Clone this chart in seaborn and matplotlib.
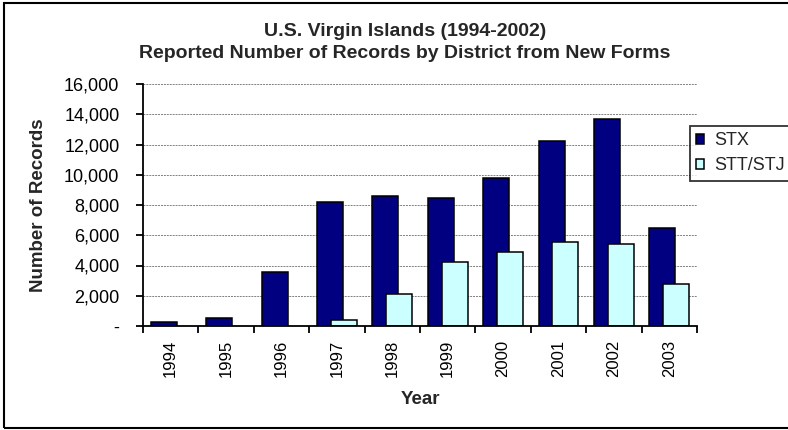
import pandas as pd
import matplotlib
matplotlib.use('Agg')
import matplotlib.pyplot as plt
import seaborn as sns
from matplotlib.patches import Patch, Rectangle
from matplotlib.ticker import FuncFormatter, FixedLocator

# values
years = ['1994', '1995', '1996', '1997', '1998', '1999', '2000', '2001', '2002', '2003']
stx = [250, 500, 3550, 8200, 8600, 8450, 9800, 12200, 13700, 6500]
stt_stj = [0, 0, 0, 400, 2100, 4200, 4900, 5550, 5400, 2750]
districts = ['STX', 'STT/STJ']
colors = ['#000080', '#CCFFFF']

df = pd.DataFrame({
    'Year': years * 2,
    'Records': stx + stt_stj,
    'District': ['STX'] * len(years) + ['STT/STJ'] * len(years),
})

sns.set_theme(style='white')
plt.rcParams['font.family'] = ['Liberation Sans', 'DejaVu Sans']

fig = plt.figure(figsize=(7.88, 4.30), dpi=100)
ax = fig.add_axes([143 / 788, 1 - 326 / 430, (697 - 143) / 788, (326 - 84) / 430])

sns.barplot(data=df, x='Year', y='Records', hue='District', hue_order=districts,
            palette=colors, saturation=1, width=0.72, edgecolor='black', linewidth=1.1,
            legend=False, ax=ax)

# excel style overlapping bars
bw = 0.47
for i, cont in enumerate(ax.containers):
    for p in cont.patches:
        if i == 1:
            p.set_x(p.get_x() + p.get_width() - bw)
        p.set_width(bw)
        if p.get_height() == 0:
            p.set_visible(False)

ax.set_xlim(-0.5, len(years) - 0.5)
ax.set_ylim(0, 16000)
ax.set_yticks(range(0, 16001, 2000))
ax.yaxis.set_major_formatter(FuncFormatter(lambda v, _: '-' if v == 0 else f'{int(v):,}'))
ax.grid(axis='y', color='#808080', linestyle=(0, (2, 1)), linewidth=0.7)
ax.set_axisbelow(True)

for s in ['top', 'right']:
    ax.spines[s].set_visible(False)
for s in ['left', 'bottom']:
    ax.spines[s].set_color('black')
    ax.spines[s].set_linewidth(1.3)

ax.tick_params(axis='y', left=True, length=5, width=1.3, color='black',
               labelsize=13, pad=12, labelcolor='black')
ax.tick_params(axis='x', which='major', length=0, labelsize=12, pad=10,
               labelrotation=90, labelcolor='black')
ax.xaxis.set_minor_locator(FixedLocator([i - 0.5 for i in range(len(years) + 1)]))
ax.tick_params(axis='x', which='minor', bottom=True, length=5, width=1.3, color='black')

ax.set_xlabel('Year', fontsize=13.5, fontweight='bold', labelpad=10)
ax.set_ylabel('Number of Records', fontsize=13.5, fontweight='bold', labelpad=12)

fig.text(405 / 788, 1 - 31 / 430, 'U.S. Virgin Islands (1994-2002)', ha='center', va='center',
         fontsize=14, fontweight='bold')
fig.text(405 / 788, 1 - 53 / 430, 'Reported Number of Records by District from New Forms',
         ha='center', va='center', fontsize=14, fontweight='bold')

handles = [Patch(facecolor=c, edgecolor='black', linewidth=1.1) for c in colors]
leg = fig.legend(handles, districts, loc='upper left', bbox_to_anchor=(690 / 788, 1 - 126 / 430),
                 fontsize=13, frameon=True, fancybox=False, handlelength=0.45, handleheight=0.45,
                 handletextpad=0.55, borderpad=0.35, labelspacing=0.45, borderaxespad=0)
leg.get_frame().set_edgecolor('black')
leg.get_frame().set_linewidth(1.3)

# outer chart border
fig.patches.append(Rectangle((4 / 788, 2 / 430), 1.2, 1 - 5 / 430, transform=fig.transFigure,
                             fill=False, edgecolor='black', linewidth=1.5))

fig.savefig('out.png', dpi=100)
